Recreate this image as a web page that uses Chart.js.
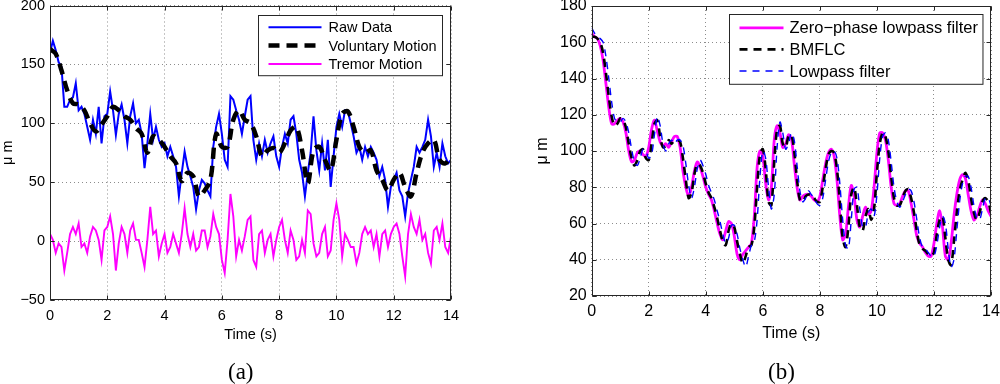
<!DOCTYPE html>
<html>
<head>
<meta charset="utf-8">
<script src="https://cdn.jsdelivr.net/npm/chart.js@4.4.0/dist/chart.umd.min.js"></script>
<style>
  body { margin: 0; background: #fff; }
  #wrap { position: relative; width: 1000px; height: 384px; }
  canvas { position: absolute; top: 0; }
  .cap { position: absolute; top: 360px; font-family: "Liberation Serif", "Times New Roman", serif; font-size: 23px; line-height: 23px; color: #000; }
</style>
</head>
<body>
<div id="wrap">
  <canvas id="chartA" width="500" height="384" style="left:0"></canvas>
  <canvas id="chartB" width="500" height="384" style="left:500px"></canvas>
  <div class="cap" style="left:228px">(a)</div>
  <div class="cap" style="left:768px">(b)</div>
</div>
<script>
// sample times (s)
const tFine = Array.from({ length: 141 }, (_, i) => +(i * 0.1).toFixed(1));
const tCoarse = Array.from({ length: 71 }, (_, i) => +(i * 0.2).toFixed(1));
const xTicksA = [0, 2, 4, 6, 8, 10, 12, 14];

// (a) raw signal, every 0.1 s
const rawData = [
  160, 170, 162, 152, 148, 114, 114, 120, 122, 134,
  111, 114, 108, 97, 86, 103, 91, 114, 83, 106,
  108, 127, 111, 90, 108, 116, 103, 83, 106, 117,
  100, 103, 91, 62, 83, 108, 86, 97, 86, 80,
  83, 72, 80, 72, 63, 38, 58, 76, 63, 55,
  46, 27, 43, 52, 49, 43, 38, 80, 97, 108,
  91, 69, 63, 123, 120, 111, 103, 91, 106, 120,
  123, 86, 69, 83, 72, 86, 75, 83, 89, 72,
  63, 80, 91, 83, 103, 106, 91, 69, 58, 38,
  58, 75, 106, 77, 60, 83, 60, 86, 46, 72,
  97, 108, 97, 111, 110, 100, 89, 75, 80, 69,
  80, 72, 80, 75, 69, 55, 63, 52, 29, 46,
  52, 58, 43, 38, 21, 41, 52, 63, 80, 75,
  80, 86, 103, 89, 63, 75, 63, 83, 72, 66,
  69
];

// (a) voluntary component, every 0.2 s
const voluntary = [
  163, 159, 145, 128, 117, 116, 111, 100, 93, 99,
  106, 114, 111, 106, 103, 96, 91, 75, 89, 86,
  80, 72, 66, 51, 58, 55, 38, 43, 52, 91,
  80, 80, 103, 111, 103, 100, 89, 72, 77, 79,
  75, 83, 94, 97, 77, 49, 77, 80, 69, 60,
  86, 108, 110, 97, 80, 75, 77, 60, 52, 43,
  52, 58, 46, 38, 58, 75, 83, 86, 69, 66,
  72
];

// (a) tremor component, every 0.1 s
const tremor = [
  6, 1, -10, -2, -5, -25, -10, 6, 12, 6,
  15, -5, -2, -10, 4, 12, 9, 1, -16, 9,
  12, 21, 6, -25, -2, 12, 6, -10, 9, 15,
  1, 1, -10, -22, 1, 29, 6, 9, -13, -2,
  6, -10, -5, 6, -2, -10, 6, 28, 6, -5,
  6, -8, -5, 9, 9, -5, 4, 23, 12, 6,
  -16, -27, 1, 40, 21, -13, 1, -8, 4, 18,
  21, -16, -22, 6, 9, -10, 1, 6, -13, 1,
  12, 18, 1, -10, 9, 1, -16, -13, 1, -10,
  26, 23, -2, -13, -10, 6, 12, -13, -8, 18,
  32, 18, -13, 6, 1, -5, -5, -19, -10, 6,
  12, 6, 9, -5, 6, -13, 6, 9, -5, 6,
  12, 15, 6, -13, -30, 6, 23, 12, 6, 18,
  1, 6, -10, -19, 9, 12, 1, 15, -5, -10,
  4
];

// (b) filter outputs, every 0.1 s
const zeroPhase = [
  165, 163, 162, 158, 150, 137, 124, 115, 115, 117,
  118, 116, 110, 100, 94, 95, 99, 100, 98, 97,
  102, 112, 117, 111, 105, 103, 104, 102, 105, 108,
  108, 102, 89, 80, 75, 80, 89, 94, 91, 86,
  80, 76, 73, 67, 60, 54, 51, 56, 61, 60,
  53, 43, 40, 43, 45, 47, 49, 64, 91, 100,
  97, 82, 73, 80, 106, 114, 110, 102, 104, 109,
  107, 93, 80, 73, 75, 76, 76, 75, 73, 72,
  75, 84, 93, 99, 101, 97, 84, 64, 51, 54,
  69, 81, 75, 62, 58, 64, 69, 65, 67, 80,
  99, 110, 110, 106, 95, 80, 71, 70, 71, 75,
  78, 78, 71, 62, 53, 49, 47, 44, 42, 42,
  49, 60, 67, 58, 42, 40, 49, 64, 76, 84,
  87, 85, 76, 67, 62, 64, 69, 73, 71, 67,
  64
];
const bmflc = [
  163, 163, 162, 160, 154, 143, 130, 119, 114, 115,
  118, 117, 113, 104, 96, 92, 95, 100, 101, 96,
  95, 104, 115, 117, 108, 102, 103, 106, 104, 106,
  106, 105, 96, 84, 74, 77, 87, 93, 92, 88,
  82, 77, 74, 69, 63, 56, 50, 48, 56, 60,
  58, 50, 43, 38, 42, 47, 48, 58, 80, 98,
  101, 90, 72, 70, 94, 112, 114, 104, 102, 108,
  109, 100, 84, 73, 72, 75, 76, 76, 74, 72,
  72, 80, 90, 98, 100, 99, 90, 72, 52, 47,
  58, 76, 80, 70, 58, 56, 64, 68, 62, 68,
  88, 104, 110, 108, 100, 86, 74, 70, 70, 74,
  78, 79, 74, 66, 56, 48, 46, 45, 43, 42,
  44, 54, 62, 64, 52, 40, 37, 50, 66, 78,
  84, 88, 84, 74, 66, 62, 66, 72, 74, 72,
  66
];
const lowpass = [
  168, 165, 163, 162, 160, 152, 140, 127, 118, 116,
  116, 118, 116, 110, 101, 94, 92, 96, 101, 100,
  96, 98, 109, 119, 114, 104, 100, 104, 106, 104,
  106, 106, 103, 93, 81, 74, 80, 90, 95, 92,
  87, 81, 77, 73, 67, 61, 54, 49, 52, 59,
  59, 54, 46, 40, 36, 42, 48, 50, 62, 86,
  100, 96, 80, 68, 76, 102, 116, 110, 101, 104,
  110, 106, 92, 78, 72, 74, 78, 76, 74, 71,
  70, 74, 84, 94, 99, 100, 96, 82, 62, 48,
  46, 62, 79, 80, 68, 58, 58, 66, 68, 64,
  76, 96, 108, 110, 106, 94, 80, 72, 69, 72,
  76, 79, 78, 72, 62, 52, 47, 46, 44, 42,
  42, 48, 58, 64, 60, 46, 36, 40, 56, 72,
  82, 86, 86, 80, 70, 63, 62, 68, 74, 74,
  70
];

const pts = (ts, vs) => ts.map((t, i) => ({ x: t, y: vs[i] }));
const SANS = "'Liberation Sans', Arial, Helvetica, sans-serif";

// matlab style box with inward ticks on all 4 sides
const frame = {
  id: 'frame',
  afterDatasetsDraw(chart) {
    const { ctx, chartArea: a, scales } = chart;
    const L = Math.round(a.left) + 0.5, R = Math.round(a.right) - 0.5;
    const T = Math.round(a.top) + 0.5, B = Math.round(a.bottom) - 0.5;
    ctx.save();
    ctx.strokeStyle = '#262626';
    ctx.lineWidth = 1;
    ctx.setLineDash([]);
    ctx.beginPath();
    scales.x.ticks.forEach(t => {
      const px = Math.round(scales.x.getPixelForValue(t.value)) + 0.5;
      ctx.moveTo(px, B); ctx.lineTo(px, B - 4);
      ctx.moveTo(px, T); ctx.lineTo(px, T + 4);
    });
    scales.y.ticks.forEach(t => {
      const py = Math.round(scales.y.getPixelForValue(t.value)) + 0.5;
      ctx.moveTo(L, py); ctx.lineTo(L + 4, py);
      ctx.moveTo(R, py); ctx.lineTo(R - 4, py);
    });
    ctx.stroke();
    ctx.strokeRect(L, T, R - L, B - T);
    ctx.restore();
  }
};

// legend inside the axes, with a border, like matlab
const boxLegend = {
  id: 'boxLegend',
  afterDraw(chart, args, o) {
    const { ctx, chartArea } = chart;
    const sets = chart.data.datasets;
    ctx.save();
    ctx.font = o.font;
    const textW = Math.max(...sets.map(d => ctx.measureText(d.label).width));
    const w = o.padLeft + o.sample + o.gap + textW + o.padRight;
    const h = o.rowH * sets.length + o.padV * 2;
    const x = Math.round(chartArea.right - o.right - w) + 0.5;
    const y = Math.round(chartArea.top + o.top) + 0.5;
    ctx.fillStyle = '#fff';
    ctx.fillRect(x, y, w, h);
    ctx.strokeStyle = '#262626';
    ctx.lineWidth = 1;
    ctx.strokeRect(x, y, w, h);
    sets.forEach((d, i) => {
      const cy = y + o.padV + o.rowH * (i + 0.5);
      ctx.beginPath();
      ctx.setLineDash(d.borderDash || []);
      ctx.lineWidth = d.borderWidth;
      ctx.strokeStyle = d.borderColor;
      ctx.moveTo(x + o.padLeft, cy);
      ctx.lineTo(x + o.padLeft + o.sample, cy);
      ctx.stroke();
      ctx.setLineDash([]);
      ctx.fillStyle = '#000';
      ctx.textBaseline = 'middle';
      ctx.fillText(d.label, x + o.padLeft + o.sample + o.gap, cy + 1);
    });
    ctx.restore();
  }
};

function axes(fs, yMin, yMax, yStep, yW, xH, yTitlePad, xTitlePad, tickPadX, tickPadY) {
  const grid = { color: '#8c8c8c', lineWidth: 1, drawTicks: false, borderDash: [1, 3] };
  return {
    x: {
      type: 'linear', min: 0, max: 14,
      afterBuildTicks: s => { s.ticks = xTicksA.map(v => ({ value: v })); },
      grid: grid,
      border: { display: false, dash: [1, 3] },
      ticks: { color: '#000', font: { family: SANS, size: fs }, padding: tickPadX, maxRotation: 0 },
      title: { display: true, text: 'Time (s)', color: '#000', font: { family: SANS, size: fs }, padding: { top: 0, bottom: xTitlePad } },
      afterFit: s => { s.height = xH; s.paddingLeft = 0; s.paddingRight = 0; }
    },
    y: {
      min: yMin, max: yMax,
      ticks: {
        stepSize: yStep, color: '#000', font: { family: SANS, size: fs }, padding: tickPadY,
        callback: v => String(v).replace('-', '\u2212')
      },
      grid: grid,
      border: { display: false, dash: [1, 3] },
      title: { display: true, text: 'μ m', color: '#000', font: { family: SANS, size: fs, lineHeight: 1 }, padding: { top: yTitlePad, bottom: 0 } },
      afterFit: s => { s.width = yW; s.paddingTop = 0; s.paddingBottom = 0; }
    }
  };
}

// (a) raw / voluntary / tremor
new Chart(document.getElementById('chartA'), {
  type: 'line',
  data: {
    datasets: [
      { label: 'Raw Data', data: pts(tFine, rawData), borderColor: '#0000ff', borderWidth: 2, tension: 0, order: 3 },
      { label: 'Voluntary Motion', data: pts(tCoarse, voluntary), borderColor: '#000', borderWidth: 4.5, borderDash: [11, 7], tension: 0.35, order: 1 },
      { label: 'Tremor Motion', data: pts(tFine, tremor), borderColor: '#ff00ff', borderWidth: 1.9, tension: 0, order: 2 }
    ]
  },
  options: {
    responsive: false,
    animation: false,
    devicePixelRatio: 1,
    elements: { point: { radius: 0 } },
    layout: { padding: { left: 0, right: 49, top: 5.5, bottom: 0 } },
    plugins: {
      legend: { display: false },
      tooltip: { enabled: false },
      boxLegend: { font: '14.5px ' + SANS, padLeft: 10, sample: 53, gap: 7, padRight: 6, rowH: 18.4, padV: 2.5, right: 9, top: 9.5 }
    },
    scales: axes(14.5, -50, 200, 50, 50, 84, 0.5, 40, 7, 5)
  },
  plugins: [frame, boxLegend]
});

// (b) filter comparison
new Chart(document.getElementById('chartB'), {
  type: 'line',
  data: {
    datasets: [
      { label: 'Zero−phase lowpass filter', data: pts(tFine, zeroPhase), borderColor: '#ff00ff', borderWidth: 2.8, tension: 0.3, order: 3 },
      { label: 'BMFLC', data: pts(tFine, bmflc), borderColor: '#000', borderWidth: 2.6, borderDash: [8, 6], tension: 0.3, order: 2 },
      { label: 'Lowpass filter', data: pts(tFine, lowpass), borderColor: '#0000ff', borderWidth: 1.4, borderDash: [7, 6], tension: 0.3, order: 1 }
    ]
  },
  options: {
    responsive: false,
    animation: false,
    devicePixelRatio: 1,
    elements: { point: { radius: 0 } },
    layout: { padding: { left: 0, right: 9, top: 6, bottom: 0 } },
    plugins: {
      legend: { display: false },
      tooltip: { enabled: false },
      boxLegend: { font: '16.5px ' + SANS, padLeft: 10, sample: 44, gap: 6, padRight: 5, rowH: 21.6, padV: 2.5, right: 8.3, top: 8 }
    },
    scales: axes(16, 20, 180, 20, 91.7, 88, 35, 40.5, 6, 5)
  },
  plugins: [frame, boxLegend]
});
</script>
</body>
</html>
